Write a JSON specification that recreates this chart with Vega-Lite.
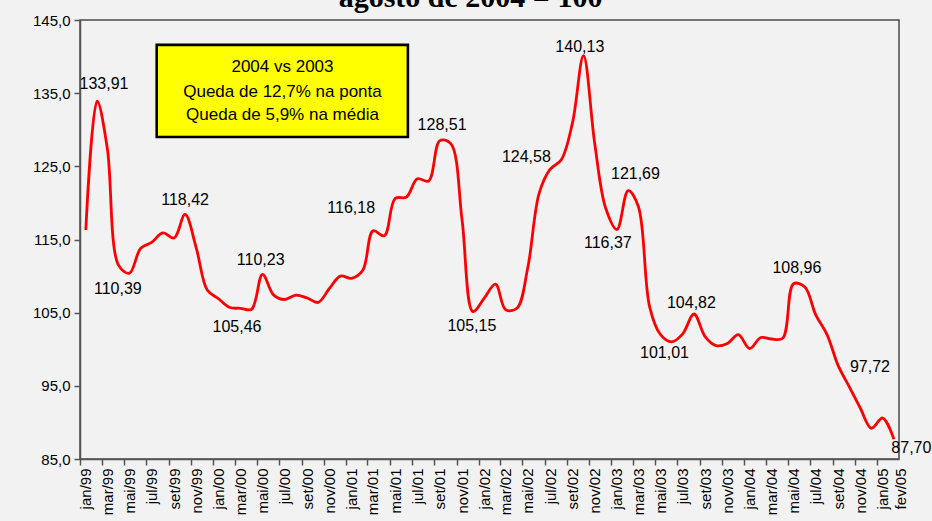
{
  "$schema": "https://vega.github.io/schema/vega-lite/v6.json",
  "width": 819,
  "height": 439,
  "autosize": {"type": "none"},
  "padding": {"left": 80, "top": 20, "right": 33, "bottom": 62},
  "background": "#f2f2f2",
  "title": {
    "text": "agosto de 2004 = 100",
    "font": "Liberation Serif",
    "fontSize": 30,
    "fontWeight": "bold",
    "color": "#000000",
    "anchor": "middle",
    "frame": "group",
    "dx": -19,
    "dy": 30,
    "baseline": "bottom",
    "offset": 0
  },
  "config": {
    "view": {"stroke": "#4a4a4a", "strokeWidth": 1.5},
    "axis": {
      "domainColor": "#555555",
      "tickColor": "#555555",
      "domainWidth": 1.5,
      "tickWidth": 1.5,
      "labelColor": "#000000",
      "labelFont": "Liberation Sans",
      "grid": false,
      "labelOverlap": false
    }
  },
  "datasets": {
    "serie": [
      {"date": "1999-01-01", "value": 116.3},
      {"date": "1999-02-01", "value": 133.91},
      {"date": "1999-03-01", "value": 127.5},
      {"date": "1999-04-01", "value": 111.5},
      {"date": "1999-05-01", "value": 110.39},
      {"date": "1999-06-01", "value": 113.8},
      {"date": "1999-07-01", "value": 114.6},
      {"date": "1999-08-01", "value": 115.9},
      {"date": "1999-09-01", "value": 115.2},
      {"date": "1999-10-01", "value": 118.42},
      {"date": "1999-11-01", "value": 113.8},
      {"date": "1999-12-01", "value": 108.1},
      {"date": "2000-01-01", "value": 106.9},
      {"date": "2000-02-01", "value": 105.7},
      {"date": "2000-03-01", "value": 105.6},
      {"date": "2000-04-01", "value": 105.46},
      {"date": "2000-05-01", "value": 110.23},
      {"date": "2000-06-01", "value": 107.4},
      {"date": "2000-07-01", "value": 106.8},
      {"date": "2000-08-01", "value": 107.4},
      {"date": "2000-09-01", "value": 107.0},
      {"date": "2000-10-01", "value": 106.4},
      {"date": "2000-11-01", "value": 108.3},
      {"date": "2000-12-01", "value": 110.0},
      {"date": "2001-01-01", "value": 109.7},
      {"date": "2001-02-01", "value": 110.8},
      {"date": "2001-03-01", "value": 116.18},
      {"date": "2001-04-01", "value": 115.5},
      {"date": "2001-05-01", "value": 120.6},
      {"date": "2001-06-01", "value": 120.8},
      {"date": "2001-07-01", "value": 123.3},
      {"date": "2001-08-01", "value": 123.0},
      {"date": "2001-09-01", "value": 128.51},
      {"date": "2001-10-01", "value": 128.1},
      {"date": "2001-11-01", "value": 117.7},
      {"date": "2001-12-01", "value": 105.15},
      {"date": "2002-01-01", "value": 107.0},
      {"date": "2002-02-01", "value": 108.9},
      {"date": "2002-03-01", "value": 105.4},
      {"date": "2002-04-01", "value": 105.6},
      {"date": "2002-05-01", "value": 111.2},
      {"date": "2002-06-01", "value": 121.3},
      {"date": "2002-07-01", "value": 124.58},
      {"date": "2002-08-01", "value": 125.9},
      {"date": "2002-09-01", "value": 131.0},
      {"date": "2002-10-01", "value": 140.13},
      {"date": "2002-11-01", "value": 128.1},
      {"date": "2002-12-01", "value": 119.3},
      {"date": "2003-01-01", "value": 116.37},
      {"date": "2003-02-01", "value": 121.69},
      {"date": "2003-03-01", "value": 119.5},
      {"date": "2003-04-01", "value": 105.8},
      {"date": "2003-05-01", "value": 102.0},
      {"date": "2003-06-01", "value": 101.01},
      {"date": "2003-07-01", "value": 102.1},
      {"date": "2003-08-01", "value": 104.82},
      {"date": "2003-09-01", "value": 101.7},
      {"date": "2003-10-01", "value": 100.5},
      {"date": "2003-11-01", "value": 100.8},
      {"date": "2003-12-01", "value": 102.0},
      {"date": "2004-01-01", "value": 100.1},
      {"date": "2004-02-01", "value": 101.6},
      {"date": "2004-03-01", "value": 101.4},
      {"date": "2004-04-01", "value": 101.5},
      {"date": "2004-05-01", "value": 108.96},
      {"date": "2004-06-01", "value": 108.5},
      {"date": "2004-07-01", "value": 104.7},
      {"date": "2004-08-01", "value": 102.0},
      {"date": "2004-09-01", "value": 97.72},
      {"date": "2004-10-01", "value": 94.9},
      {"date": "2004-11-01", "value": 91.9},
      {"date": "2004-12-01", "value": 89.2},
      {"date": "2005-01-01", "value": 90.6},
      {"date": "2005-02-01", "value": 87.7}
    ],
    "rotulos": [
      {"date": "1999-02-20", "value": 136.25, "label": "133,91"},
      {"date": "1999-03-30", "value": 108.24, "label": "110,39"},
      {"date": "1999-10-01", "value": 120.4, "label": "118,42"},
      {"date": "2000-02-21", "value": 103.04, "label": "105,46"},
      {"date": "2000-04-26", "value": 112.2, "label": "110,23"},
      {"date": "2000-12-31", "value": 119.31, "label": "116,18"},
      {"date": "2001-09-07", "value": 130.65, "label": "128,51"},
      {"date": "2001-11-28", "value": 103.18, "label": "105,15"},
      {"date": "2002-04-27", "value": 126.28, "label": "124,58"},
      {"date": "2002-09-21", "value": 141.31, "label": "140,13"},
      {"date": "2003-02-21", "value": 123.95, "label": "121,69"},
      {"date": "2002-12-07", "value": 114.52, "label": "116,37"},
      {"date": "2003-05-12", "value": 99.49, "label": "101,01"},
      {"date": "2003-07-25", "value": 106.32, "label": "104,82"},
      {"date": "2004-05-10", "value": 111.11, "label": "108,96"},
      {"date": "2004-11-27", "value": 97.58, "label": "97,72"},
      {"date": "2005-03-21", "value": 86.51, "label": "87,70"}
    ],
    "caixa": [
      {"date": "1999-07-15", "end": "2001-06-05", "value": 141.6, "bottom": 129.0}
    ],
    "caixa_texto": [
      {"date": "2000-06-25", "value": 138.58, "label": "2004 vs 2003"},
      {"date": "2000-06-25", "value": 135.16, "label": "Queda de 12,7% na ponta"},
      {"date": "2000-06-25", "value": 132.02, "label": "Queda de 5,9% na média"}
    ]
  },
  "encoding": {
    "x": {
      "field": "date",
      "type": "temporal",
      "title": null,
      "scale": {
        "type": "utc",
        "domain": [
          {"year": 1998, "month": 12, "date": 16, "utc": true},
          {"year": 2005, "month": 2, "date": 15, "utc": true}
        ]
      },
      "axis": {
        "values": [
          {"year": 1999, "month": 1, "date": 1, "utc": true},
          {"year": 1999, "month": 3, "date": 1, "utc": true},
          {"year": 1999, "month": 5, "date": 1, "utc": true},
          {"year": 1999, "month": 7, "date": 1, "utc": true},
          {"year": 1999, "month": 9, "date": 1, "utc": true},
          {"year": 1999, "month": 11, "date": 1, "utc": true},
          {"year": 2000, "month": 1, "date": 1, "utc": true},
          {"year": 2000, "month": 3, "date": 1, "utc": true},
          {"year": 2000, "month": 5, "date": 1, "utc": true},
          {"year": 2000, "month": 7, "date": 1, "utc": true},
          {"year": 2000, "month": 9, "date": 1, "utc": true},
          {"year": 2000, "month": 11, "date": 1, "utc": true},
          {"year": 2001, "month": 1, "date": 1, "utc": true},
          {"year": 2001, "month": 3, "date": 1, "utc": true},
          {"year": 2001, "month": 5, "date": 1, "utc": true},
          {"year": 2001, "month": 7, "date": 1, "utc": true},
          {"year": 2001, "month": 9, "date": 1, "utc": true},
          {"year": 2001, "month": 11, "date": 1, "utc": true},
          {"year": 2002, "month": 1, "date": 1, "utc": true},
          {"year": 2002, "month": 3, "date": 1, "utc": true},
          {"year": 2002, "month": 5, "date": 1, "utc": true},
          {"year": 2002, "month": 7, "date": 1, "utc": true},
          {"year": 2002, "month": 9, "date": 1, "utc": true},
          {"year": 2002, "month": 11, "date": 1, "utc": true},
          {"year": 2003, "month": 1, "date": 1, "utc": true},
          {"year": 2003, "month": 3, "date": 1, "utc": true},
          {"year": 2003, "month": 5, "date": 1, "utc": true},
          {"year": 2003, "month": 7, "date": 1, "utc": true},
          {"year": 2003, "month": 9, "date": 1, "utc": true},
          {"year": 2003, "month": 11, "date": 1, "utc": true},
          {"year": 2004, "month": 1, "date": 1, "utc": true},
          {"year": 2004, "month": 3, "date": 1, "utc": true},
          {"year": 2004, "month": 5, "date": 1, "utc": true},
          {"year": 2004, "month": 7, "date": 1, "utc": true},
          {"year": 2004, "month": 9, "date": 1, "utc": true},
          {"year": 2004, "month": 11, "date": 1, "utc": true},
          {"year": 2005, "month": 1, "date": 1, "utc": true},
          {"year": 2005, "month": 2, "date": 1, "utc": true}
        ],
        "labelExpr": "['jan','fev','mar','abr','mai','jun','jul','ago','set','out','nov','dez'][utcmonth(datum.value)] + '/' + utcFormat(datum.value, '%y')",
        "labelAngle": -90,
        "labelFontSize": 15,
        "labelPadding": 3,
        "tickSize": 6,
        "tickOffset": -5.5,
        "labelOffset": {
          "condition": {"test": "utcyear(datum.value) == 2005 && utcmonth(datum.value) == 1", "value": 12},
          "value": 5.5
        },
        "tickOpacity": {
          "condition": {"test": "utcyear(datum.value) == 2005 && utcmonth(datum.value) == 1", "value": 0},
          "value": 1
        },
        "labelOverlap": false,
        "labelFlush": false,
        "labelBound": false
      }
    },
    "y": {
      "field": "value",
      "type": "quantitative",
      "title": null,
      "scale": {"domain": [85, 145], "nice": false, "zero": false},
      "axis": {
        "values": [85, 95, 105, 115, 125, 135, 145],
        "labelExpr": "replace(format(datum.value, '.1f'), '.', ',')",
        "labelFontSize": 15,
        "labelPadding": 4,
        "tickSize": 6
      }
    }
  },
  "layer": [
    {
      "mark": {"type": "rect", "fill": "#ffffff", "clip": false},
      "encoding": {
        "x": {"datum": {"year": 1997, "month": 1, "date": 1, "utc": true}, "type": "temporal"},
        "x2": {"datum": {"year": 2006, "month": 12, "date": 31, "utc": true}},
        "y": {"datum": 146.1, "type": "quantitative"},
        "y2": {"datum": 170}
      }
    },
    {
      "data": {"name": "serie"},
      "mark": {"type": "line", "color": "#ff0000", "strokeWidth": 2.8, "interpolate": "catmull-rom", "clip": false}
    },
    {
      "data": {"name": "caixa"},
      "mark": {"type": "rect", "fill": "#ffff00", "stroke": "#000000", "strokeWidth": 2.6},
      "encoding": {
        "x2": {"field": "end"},
        "y2": {"field": "bottom"}
      }
    },
    {
      "data": {"name": "caixa_texto"},
      "mark": {"type": "text", "font": "Liberation Sans", "fontSize": 17, "color": "#000000", "baseline": "middle", "align": "center"},
      "encoding": {
        "text": {"field": "label"}
      }
    },
    {
      "data": {"name": "rotulos"},
      "mark": {"type": "text", "font": "Liberation Sans", "fontSize": 16, "color": "#000000", "baseline": "middle", "align": "center"},
      "encoding": {
        "text": {"field": "label"}
      }
    }
  ]
}
